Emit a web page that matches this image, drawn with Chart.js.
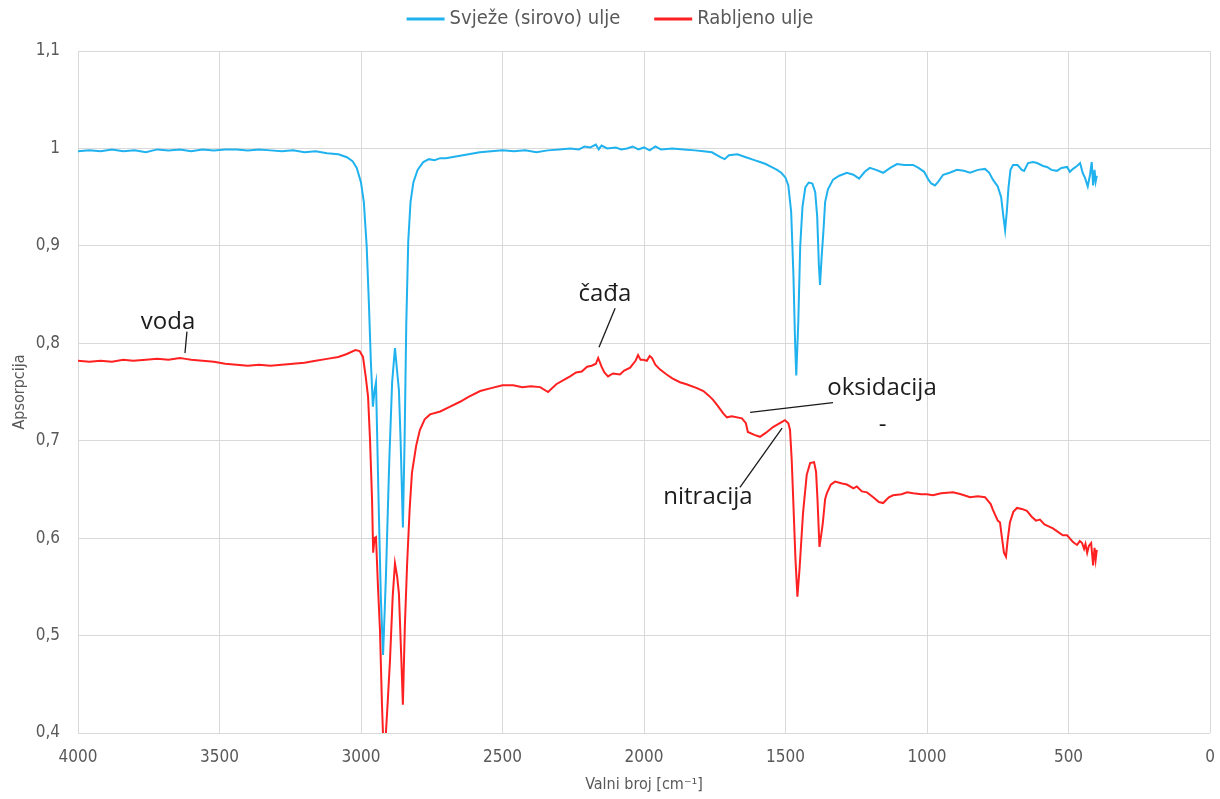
<!DOCTYPE html>
<html>
<head>
<meta charset="utf-8">
<script src="https://cdn.jsdelivr.net/npm/chart.js@4.4.1/dist/chart.umd.min.js"></script>
<style>
  body { margin: 0; background: #fff; }
  canvas { display: block; }
</style>
</head>
<body>
<canvas id="spectrum" width="1220" height="799"></canvas>
<script>
// Svježe (sirovo) ulje - wavenumber / absorbance
const freshWave = [4000, 3960, 3920, 3880, 3840, 3800, 3760, 3720, 3680, 3640, 3600, 3560, 3520, 3480, 3440, 3400, 3360, 3320, 3280, 3240, 3200, 3160, 3120, 3080, 3050, 3030, 3015, 3000, 2990, 2980, 2972, 2965, 2958, 2952, 2947, 2938, 2930, 2922, 2912, 2900, 2890, 2880, 2872, 2866, 2860, 2852, 2846, 2840, 2833, 2825, 2815, 2800, 2780, 2760, 2740, 2720, 2700, 2660, 2620, 2580, 2540, 2500, 2460, 2420, 2380, 2340, 2300, 2260, 2230, 2210, 2190, 2170, 2160, 2150, 2130, 2100, 2080, 2060, 2040, 2020, 2000, 1980, 1960, 1940, 1900, 1860, 1820, 1790, 1760, 1730, 1715, 1700, 1670, 1640, 1610, 1590, 1570, 1550, 1530, 1515, 1500, 1490, 1480, 1472, 1466, 1462, 1455, 1448, 1440, 1430, 1418, 1405, 1395, 1388, 1382, 1378, 1372, 1366, 1360, 1350, 1332, 1310, 1283, 1260, 1240, 1220, 1202, 1180, 1155, 1130, 1106, 1080, 1049, 1030, 1010, 995, 985, 972, 960, 943, 920, 894, 870, 848, 820, 795, 780, 767, 750, 738, 730, 724, 718, 712, 705, 696, 680, 665, 657, 643, 625, 611, 590, 576, 560, 541, 525, 505, 495, 484, 470, 459, 450, 442, 432, 424, 418, 413, 408, 404, 400];
const freshAbs = [0.997, 0.998, 0.997, 0.999, 0.997, 0.998, 0.996, 0.999, 0.998, 0.999, 0.997, 0.999, 0.998, 0.999, 0.999, 0.998, 0.999, 0.998, 0.997, 0.998, 0.996, 0.997, 0.995, 0.994, 0.991, 0.987, 0.980, 0.965, 0.945, 0.900, 0.840, 0.780, 0.735, 0.752, 0.760, 0.640, 0.540, 0.480, 0.560, 0.680, 0.760, 0.795, 0.770, 0.752, 0.700, 0.611, 0.700, 0.820, 0.905, 0.945, 0.965, 0.978, 0.986, 0.989, 0.988, 0.990, 0.990, 0.992, 0.994, 0.996, 0.997, 0.998, 0.997, 0.998, 0.996, 0.998, 0.999, 1.000, 0.999, 1.002, 1.001, 1.004, 0.999, 1.003, 1.000, 1.001, 0.999, 1.000, 1.002, 0.999, 1.001, 0.998, 1.002, 0.999, 1.000, 0.999, 0.998, 0.997, 0.996, 0.991, 0.989, 0.993, 0.994, 0.991, 0.988, 0.986, 0.984, 0.981, 0.978, 0.975, 0.970, 0.962, 0.935, 0.870, 0.800, 0.767, 0.820, 0.900, 0.940, 0.960, 0.965, 0.964, 0.955, 0.930, 0.880, 0.860, 0.890, 0.915, 0.945, 0.958, 0.968, 0.972, 0.975, 0.973, 0.969, 0.976, 0.980, 0.978, 0.975, 0.980, 0.984, 0.983, 0.983, 0.980, 0.976, 0.968, 0.964, 0.962, 0.966, 0.973, 0.975, 0.978, 0.977, 0.975, 0.978, 0.979, 0.975, 0.968, 0.961, 0.950, 0.930, 0.916, 0.935, 0.960, 0.978, 0.983, 0.983, 0.978, 0.977, 0.985, 0.986, 0.985, 0.982, 0.981, 0.978, 0.977, 0.980, 0.981, 0.976, 0.979, 0.982, 0.985, 0.975, 0.970, 0.961, 0.973, 0.986, 0.962, 0.978, 0.966, 0.972];

// Rabljeno ulje
const usedWave = [4000, 3960, 3920, 3880, 3840, 3805, 3760, 3720, 3680, 3640, 3620, 3600, 3560, 3520, 3480, 3440, 3400, 3360, 3320, 3280, 3240, 3200, 3160, 3120, 3080, 3050, 3020, 3005, 2993, 2983, 2975, 2968, 2961, 2957, 2952, 2947, 2940, 2933, 2926, 2920, 2914, 2906, 2898, 2888, 2880, 2872, 2866, 2858, 2852, 2845, 2837, 2828, 2820, 2805, 2792, 2775, 2756, 2720, 2685, 2650, 2620, 2579, 2540, 2500, 2462, 2430, 2400, 2367, 2339, 2310, 2280, 2261, 2240, 2220, 2201, 2185, 2170, 2162, 2150, 2140, 2127, 2110, 2085, 2070, 2049, 2030, 2021, 2012, 2003, 1990, 1980, 1972, 1960, 1943, 1920, 1900, 1873, 1850, 1813, 1790, 1770, 1756, 1740, 1720, 1707, 1690, 1654, 1640, 1633, 1610, 1590, 1570, 1544, 1520, 1502, 1490, 1484, 1478, 1473, 1465, 1458, 1450, 1438, 1425, 1413, 1399, 1392, 1387, 1380, 1373, 1368, 1360, 1354, 1340, 1325, 1300, 1283, 1260, 1248, 1230, 1212, 1190, 1170, 1155, 1135, 1120, 1090, 1070, 1049, 1020, 1000, 979, 950, 908, 880, 848, 820, 795, 775, 767, 750, 742, 735, 728, 721, 715, 707, 695, 682, 665, 647, 630, 615, 601, 585, 570, 555, 540, 520, 505, 490, 484, 470, 460, 452, 445, 440, 434, 428, 420, 413, 408, 404, 400];
const usedAbs = [0.782, 0.781, 0.782, 0.781, 0.783, 0.782, 0.783, 0.784, 0.783, 0.785, 0.784, 0.783, 0.782, 0.781, 0.779, 0.778, 0.777, 0.778, 0.777, 0.778, 0.779, 0.780, 0.782, 0.784, 0.786, 0.789, 0.793, 0.792, 0.786, 0.765, 0.745, 0.700, 0.640, 0.585, 0.600, 0.601, 0.550, 0.506, 0.430, 0.380, 0.390, 0.430, 0.472, 0.540, 0.574, 0.560, 0.543, 0.480, 0.429, 0.510, 0.574, 0.630, 0.667, 0.695, 0.711, 0.722, 0.727, 0.730, 0.735, 0.740, 0.745, 0.751, 0.754, 0.757, 0.757, 0.755, 0.756, 0.755, 0.750, 0.758, 0.763, 0.766, 0.770, 0.771, 0.776, 0.777, 0.779, 0.785, 0.776, 0.770, 0.766, 0.769, 0.768, 0.772, 0.775, 0.782, 0.788, 0.783, 0.783, 0.782, 0.787, 0.785, 0.778, 0.773, 0.768, 0.764, 0.760, 0.758, 0.754, 0.751, 0.746, 0.742, 0.736, 0.728, 0.724, 0.725, 0.723, 0.718, 0.709, 0.706, 0.704, 0.708, 0.714, 0.718, 0.721, 0.718, 0.711, 0.680, 0.642, 0.580, 0.540, 0.570, 0.626, 0.665, 0.677, 0.678, 0.668, 0.640, 0.591, 0.605, 0.616, 0.640, 0.646, 0.655, 0.658, 0.656, 0.655, 0.651, 0.653, 0.648, 0.647, 0.642, 0.637, 0.636, 0.642, 0.644, 0.645, 0.647, 0.646, 0.645, 0.645, 0.644, 0.646, 0.647, 0.645, 0.642, 0.643, 0.642, 0.635, 0.629, 0.618, 0.616, 0.600, 0.585, 0.581, 0.598, 0.616, 0.627, 0.631, 0.630, 0.628, 0.622, 0.618, 0.619, 0.614, 0.612, 0.610, 0.607, 0.603, 0.603, 0.598, 0.596, 0.593, 0.597, 0.595, 0.589, 0.594, 0.585, 0.592, 0.595, 0.572, 0.590, 0.578, 0.588];

// annotations (text anchor + leader line, in wavenumber / absorbance)
const noteText = ["voda", "čađa", "oksidacija", "nitracija", "-"];
const noteX = [3682, 2138, 1159, 1774, 1157];
const noteY = [0.822, 0.850, 0.754, 0.642, 0.716];
const leaderFrom = [[3615, 0.812], [2102, 0.836], [1625, 0.729], [1661, 0.652], null];
const leaderTo = [[3622, 0.790], [2159, 0.796], [1332, 0.739], [1512, 0.713], null];

const xTicks = { min: 0, max: 4000, step: 500 };
const yTicks = { min: 0.4, max: 1.1, step: 0.1 };

const toPoints = (xs, ys) => xs.map((x, i) => ({ x, y: ys[i] }));

const BLUE = "#1fb2ee";
const RED = "#ff2121";
const GREY = "#595959";
const FONT = "'Liberation Sans Narrow', 'DejaVu Sans Condensed', sans-serif";

// legend drawn by hand so it sits where the original one does
const legendPlugin = {
  id: "topLegend",
  afterDraw(chart) {
    const { ctx } = chart;
    const sets = chart.data.datasets;
    ctx.save();
    ctx.font = "20px " + FONT;
    ctx.textBaseline = "middle";
    const lineW = 38, gapText = 5, gapItem = 34;
    const widths = sets.map(d => lineW + gapText + ctx.measureText(d.label).width);
    const total = widths.reduce((a, b) => a + b, 0) + gapItem * (sets.length - 1);
    let x = chart.width / 2 - total / 2;
    const y = 19;
    sets.forEach((d, i) => {
      ctx.fillStyle = d.borderColor;
      ctx.fillRect(x, y - 1.5, lineW, 3);
      ctx.fillStyle = GREY;
      ctx.fillText(d.label, x + lineW + gapText, y);
      x += widths[i] + gapItem;
    });
    ctx.restore();
  }
};

const notesPlugin = {
  id: "notes",
  afterDatasetsDraw(chart) {
    const { ctx, scales: { x, y } } = chart;
    ctx.save();
    ctx.strokeStyle = "#1a1a1a";
    ctx.lineWidth = 1.3;
    leaderFrom.forEach((from, i) => {
      if (!from) return;
      const to = leaderTo[i];
      ctx.beginPath();
      ctx.moveTo(x.getPixelForValue(from[0]), y.getPixelForValue(from[1]));
      ctx.lineTo(x.getPixelForValue(to[0]), y.getPixelForValue(to[1]));
      ctx.stroke();
    });
    ctx.fillStyle = "#1c1c1c";
    ctx.font = "24px 'Open Sans'";
    ctx.textAlign = "center";
    ctx.textBaseline = "middle";
    noteText.forEach((t, i) => {
      ctx.fillText(t, x.getPixelForValue(noteX[i]), y.getPixelForValue(noteY[i]));
    });
    ctx.restore();
  }
};

new Chart(document.getElementById("spectrum"), {
  type: "line",
  data: {
    datasets: [{
      label: "Svježe (sirovo) ulje",
      data: toPoints(freshWave, freshAbs),
      borderColor: BLUE,
      backgroundColor: BLUE,
      borderWidth: 2,
      pointRadius: 0,
      tension: 0
    }, {
      label: "Rabljeno ulje",
      data: toPoints(usedWave, usedAbs),
      borderColor: RED,
      backgroundColor: RED,
      borderWidth: 2,
      pointRadius: 0,
      tension: 0
    }]
  },
  options: {
    responsive: false,
    animation: false,
    layout: { padding: { left: 6, right: 10, top: 51, bottom: 0 } },
    plugins: {
      tooltip: { enabled: false },
      legend: { display: false }
    },
    scales: {
      x: {
        type: "linear",
        reverse: true,
        min: xTicks.min,
        max: xTicks.max,
        afterFit(scale) {
          scale.height = 66;
          scale.paddingLeft = 0;
          scale.paddingRight = 0;
        },
        ticks: {
          stepSize: xTicks.step,
          color: GREY,
          padding: 14,
          maxRotation: 0,
          font: { family: FONT, size: 17 },
          callback: v => String(v)
        },
        grid: { color: "#d9d9d9", drawTicks: false },
        border: { display: false },
        title: {
          display: true,
          text: "Valni broj [cm⁻¹]",
          color: GREY,
          padding: { top: 0, bottom: 5 },
          font: { family: FONT, size: 16 }
        }
      },
      y: {
        min: yTicks.min,
        max: yTicks.max,
        afterFit(scale) { scale.width = 72; },
        ticks: {
          stepSize: yTicks.step,
          color: GREY,
          padding: 18,
          font: { family: FONT, size: 17 },
          callback: v => String(Number(v.toFixed(1))).replace(".", ",")
        },
        grid: { color: "#d9d9d9", drawTicks: false },
        border: { display: false },
        title: {
          display: true,
          text: "Apsorpcija",
          color: GREY,
          padding: { top: 4, bottom: 0 },
          font: { family: FONT, size: 16 }
        }
      }
    }
  },
  plugins: [notesPlugin, legendPlugin]
});
</script>
</body>
</html>
